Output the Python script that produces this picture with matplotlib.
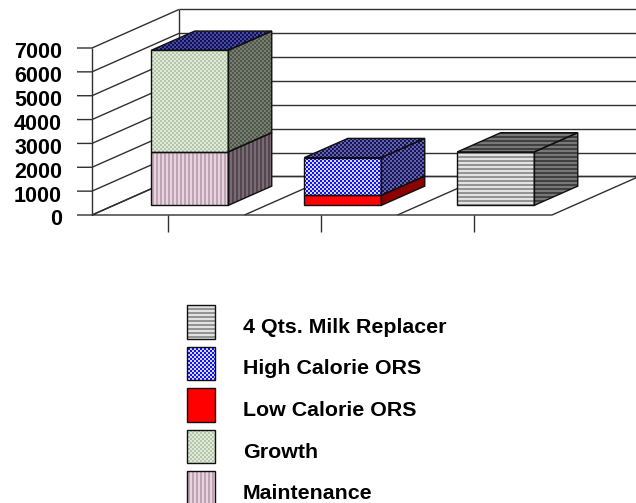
import numpy as np
import matplotlib
matplotlib.use("Agg")
from matplotlib import pyplot as plt
from matplotlib.patches import Polygon

maintenance = [2240, 0, 0]
growth = [4260, 0, 0]
low_calorie = [0, 420, 0]
high_calorie = [0, 1580, 0]
milk_replacer = [0, 0, 2240]
y_ticks = [0, 1000, 2000, 3000, 4000, 5000, 6000, 7000]
legend_labels = ["4 Qts. Milk Replacer", "High Calorie ORS", "Low Calorie ORS", "Growth", "Maintenance"]

W, H = 636, 503
PX_X = 153.0          # pixels per category
PX_Y = 167.0 / 7000   # pixels per unit
X0, Y0 = 168.0, 215.0
DEPTH_X, DEPTH_Y = 87.0 / PX_X, 38.5 / PX_Y
BAR_W = 77.0 / PX_X

# (light, dark) pixel pairs for front, side and top faces
STYLES = {
    "maint": dict(kind="v", front=("#e6d4de", "#c0a4b6"), side=("#7a6a74", "#54464f"), top=("#4a4a9c", "#101058")),
    "growth": dict(kind="c", front=("#dfeada", "#b6c6aa"), side=("#767e70", "#50564c"), top=("#4a4a9c", "#101058")),
    "low": dict(kind="s", front=("#ff0000", "#ff0000"), side=("#8c0000", "#8c0000"), top=("#8c0000", "#8c0000")),
    "high": dict(kind="c", front=("#d8d8ff", "#1414f0"), side=("#6464a4", "#14145e"), top=("#6464a4", "#14145e")),
    "milk": dict(kind="h", front=("#e2e2e2", "#949494"), side=("#787878", "#404040"), top=("#787878", "#404040")),
}


def proj(cat, val, depth):
    return cat + depth * DEPTH_X, val + depth * DEPTH_Y


def texture(style):
    # dither pattern the size of the figure
    yy, xx = np.mgrid[0:H, 0:W]
    if style["kind"] == "v":
        mask = (xx % 4) < 2
    elif style["kind"] == "h":
        mask = (yy % 4) < 2
    elif style["kind"] == "c":
        mask = (xx // 2 + yy // 2) % 2 == 0
    else:
        mask = np.zeros_like(xx, dtype=bool)
    return mask


def fill_face(ax, pts, colors, mask):
    a = np.array(matplotlib.colors.to_rgb(colors[0]))
    b = np.array(matplotlib.colors.to_rgb(colors[1]))
    img = np.where(mask[..., None], b, a)
    im = ax.imshow(img, extent=ax.get_xlim() + ax.get_ylim(), origin="upper",
                   interpolation="nearest", aspect="auto", zorder=3)
    poly = Polygon(pts, closed=True, facecolor="none", edgecolor="#101010", lw=1.0, zorder=4)
    ax.add_patch(poly)
    im.set_clip_path(poly)


def draw_box(ax, cat, bottom, top, style, show_top):
    mask = texture(style)
    l, r = cat - BAR_W / 2, cat + BAR_W / 2
    d0, d1 = 0.25, 0.75
    front = [proj(l, bottom, d0), proj(r, bottom, d0), proj(r, top, d0), proj(l, top, d0)]
    side = [proj(r, bottom, d0), proj(r, bottom, d1), proj(r, top, d1), proj(r, top, d0)]
    fill_face(ax, side, style["side"], mask)
    if show_top:
        roof = [proj(l, top, d0), proj(r, top, d0), proj(r, top, d1), proj(l, top, d1)]
        fill_face(ax, roof, style["top"], mask)
    fill_face(ax, front, style["front"], mask)


def to_data(px, py):
    return (px - X0) / PX_X, (Y0 - py) / PX_Y


fig = plt.figure(figsize=(W / 100, H / 100), dpi=100)
ax = fig.add_axes([0, 0, 1, 1])
ax.set_xlim(-X0 / PX_X, (W - X0) / PX_X)
ax.set_ylim((Y0 - H) / PX_Y, Y0 / PX_Y)
ax.axis("off")

line = dict(color="#303030", lw=1.0, zorder=1, solid_capstyle="butt")
x_left, x_right = -76.0 / PX_X, 2 + 78.0 / PX_X
# floor
xs = [x_left, x_right, proj(x_right, 0, 1)[0], proj(x_left, 0, 1)[0], x_left]
ax.plot(xs, [0, 0, DEPTH_Y, DEPTH_Y, 0], **line)
for c in [0.5, 1.5]:
    p = proj(c, 0, 1)
    ax.plot([c, p[0]], [0, p[1]], **line)
# walls
for t in y_ticks:
    p = proj(x_left, t, 1)
    ax.plot([x_left - 15 / PX_X, x_left, p[0]], [t, t, p[1]], **line)
    ax.plot([p[0], W / PX_X], [p[1], p[1]], **line)
    ax.text(x_left - 30 / PX_X, t - 5 / PX_Y, str(t), ha="right", va="center", fontsize=15.5,
            fontweight="bold", family="Liberation Sans", color="black")
ax.plot([x_left, x_left], [0, 7000], **line)
p = proj(x_left, 0, 1)
ax.plot([p[0], p[0]], [p[1], p[1] + 7000], **line)
# category ticks
for i in range(len(maintenance)):
    ax.plot([i, i], [0, -17 / PX_Y], **line)

# bars, back to front
draw_box(ax, 0, 0, maintenance[0], STYLES["maint"], False)
draw_box(ax, 0, maintenance[0], maintenance[0] + growth[0], STYLES["growth"], True)
draw_box(ax, 1, 0, low_calorie[1], STYLES["low"], False)
draw_box(ax, 1, low_calorie[1], low_calorie[1] + high_calorie[1], STYLES["high"], True)
draw_box(ax, 2, 0, milk_replacer[2], STYLES["milk"], True)

# legend
leg_styles = ["milk", "high", "low", "growth", "maint"]
for i, (lab, key) in enumerate(zip(legend_labels, leg_styles)):
    ytop = 305.5 + i * 41.4
    x0, x1 = 187, 215
    yb = ytop + 33.5
    pts = [to_data(x0, ytop), to_data(x1, ytop), to_data(x1, yb), to_data(x0, yb)]
    fill_face(ax, pts, STYLES[key]["front"], texture(STYLES[key]))
    tx, ty = to_data(243, 327.5 + i * 41.5)
    ax.text(tx, ty, lab, ha="left", va="center", fontsize=15.4, fontweight="bold",
            family="Liberation Sans", color="black")

ax.set_xlim(-X0 / PX_X, (W - X0) / PX_X)
ax.set_ylim((Y0 - H) / PX_Y, Y0 / PX_Y)
fig.savefig("out.png", dpi=100)
